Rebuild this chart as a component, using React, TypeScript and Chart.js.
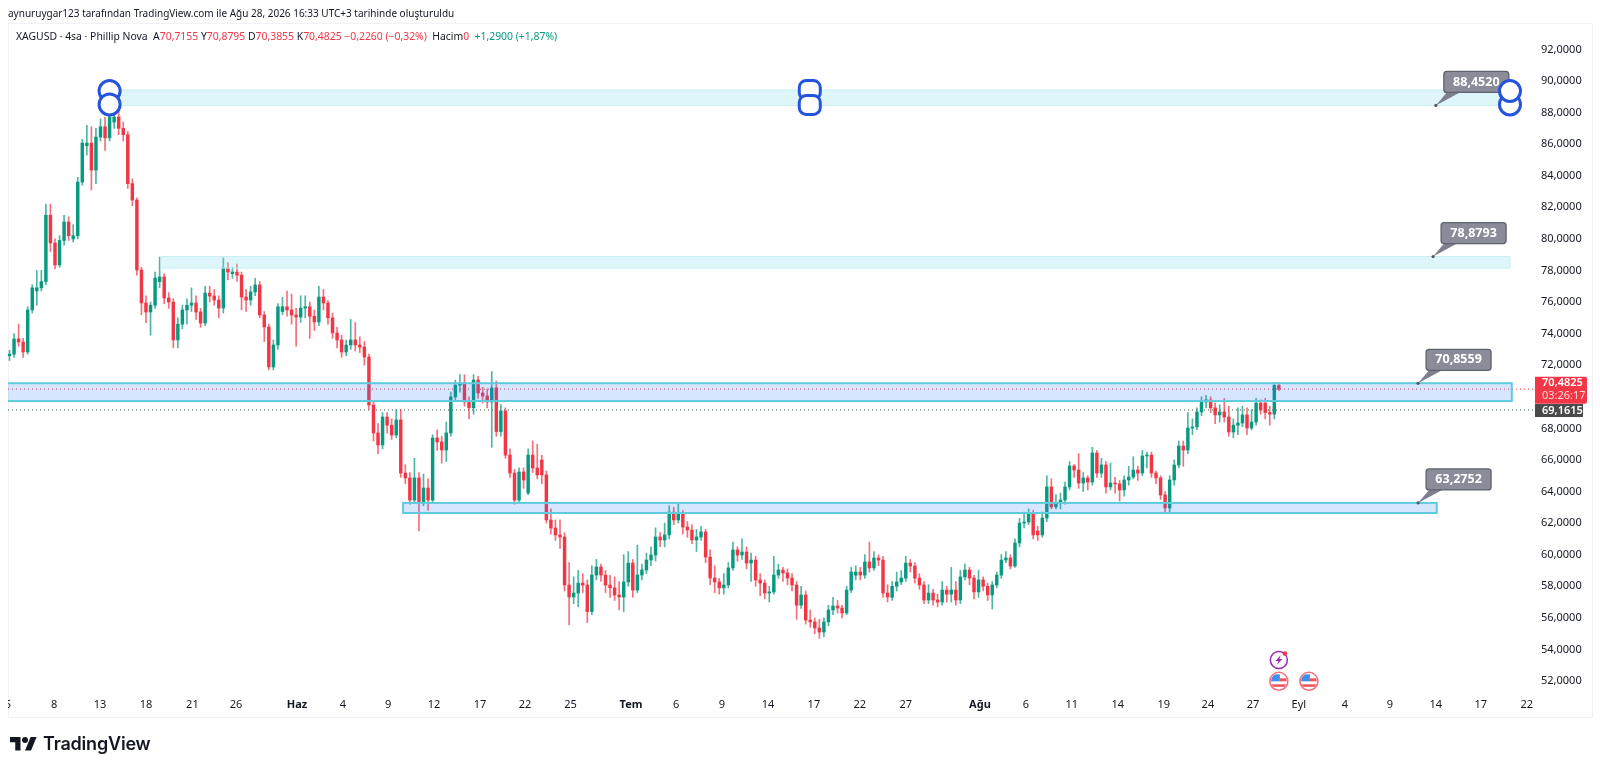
import React, { useEffect, useRef } from "react";
import { Chart, registerables } from "chart.js";

Chart.register(...registerables);

const opens = [
72.6,72.7,73.66,73.47,72.84,75.5,76.7,76.9,77.3,81.5,
79.74,78.35,79.9,81.07,80,80.2,83.6,85.9,86.07,84.36,
86.45,87.1,86.4,87.4,87.72,87,86.6,83.5,82.46,78.03,
75.94,75.37,75.8,77.3,77.59,76.26,76,73.6,74.6,75.5,
75.8,75.94,75.37,74.67,76.57,76.38,76.13,75.62,78.16,77.8,
77.9,77.7,76.32,76.13,76.64,77.08,75.18,74.42,71.89,73.28,
75.4,75.7,75.5,75.18,75.05,75.62,75.7,75.1,74.74,76.32,
75.94,75,74.04,73.6,72.84,73.28,73.6,73.28,73.15,72.52,
69.48,67.71,66.95,68.72,68.2,67.58,68.53,65.17,64.86,63.46,
64.86,63.34,64.22,63.46,67.39,67.14,66.63,67.71,69.99,70.74,
70.87,69.67,69.3,71.06,70.24,70.05,69.67,70.56,67.8,69.1,
66.31,65.17,63.46,65.24,63.9,66.31,65.49,66,65.05,62.2,
61.69,61.25,61.12,58.08,57.32,57.57,58.2,58.08,56.4,58.71,
59.22,58.71,58.08,57.9,57.45,57.32,58.27,59.47,57.76,58.71,
59.03,59.66,59.98,61.12,60.93,61.25,62.7,62.2,62.64,61.75,
61.56,60.93,61.12,61.44,59.85,58.52,58.27,57.9,58.08,59.16,
60.3,59.98,60.17,59.47,59.66,58.4,58.2,57.57,57.64,58.71,
59.03,58.84,58.52,58.08,56.8,57.45,55.86,55.74,55.36,55.1,
55.74,56.5,56.75,56.62,56.31,57.76,58.7,58.9,58.71,59.54,
59.16,59.79,59.66,57.57,57.3,58,58.27,58.52,59.47,59.28,
58.52,58.08,57.13,57.57,57.13,57,57.76,57.5,57.76,57.13,
58.59,59.03,58.52,57.64,58.4,58,57.45,58.08,58.71,59.66,
59.79,59.28,60.74,62,62.07,62.64,61.5,61.25,62.32,64.29,
63.02,63.27,63.46,64.29,65.62,65.36,64.54,64.86,64.6,66.44,
65.17,65.68,64.29,64.54,64.48,64.1,64.73,64.92,65.36,65.17,
66.25,66.31,65.17,64.86,63.78,62.96,64.73,65.68,66.88,66.63,
68.02,68.09,69.04,69.67,69.8,69.3,68.85,69.04,68.72,67.77,
68.2,68.34,68.85,68.02,68.4,69.6,69.6,69,68.9,70.7155];

const highs = [
72.95,74,74.6,73.7,75.7,77.1,78,78,82.2,82.2,
80,80.2,81.5,81.4,80.9,83.9,86.3,87.2,87.1,87,
87.6,87.7,88.4,88.4,88.3,87.4,86.8,83.8,82.6,78.2,
76.4,76,77.9,78.85,77.8,76.6,76.2,75,75.8,76.2,
76.9,76.4,75.6,77,77,76.8,76.4,78.8,78.5,78.2,
78.4,77.9,76.8,77,77.5,77.3,75.4,74.6,73.6,75.9,
76.3,76.7,76.5,75.6,76.4,76.4,76,75.5,77,76.8,
76.1,75.3,74.4,73.9,73.6,74.9,74.7,73.8,73.5,72.7,
69.7,68.3,69,69,68.6,69.2,69.2,65.7,65.2,66.1,
65.2,65.1,64.8,67.6,67.9,67.5,68.4,70.3,71.05,71.4,
71.4,70,71.4,71.3,70.6,70.5,71.6,71,69.5,69.3,
66.7,65.4,65.5,65.5,66.7,67.2,67,66.3,65.3,62.9,
62.2,62.2,61.4,59.5,58.6,59,58.8,58.4,59.3,59.7,
59.4,59,58.7,58.6,58.3,60,60.2,59.7,60.6,59.4,
60.1,60.5,61.7,61.4,62,63.1,63,63.2,62.8,62.1,
61.9,61.6,61.8,61.6,60.3,59.3,58.5,58.8,59.5,60.8,
60.5,61,60.5,60.1,59.9,58.8,58.4,58,59.9,59.4,
59.2,59.1,58.8,58.3,58,57.7,56.5,56,55.9,56,
56.8,57.3,57.1,56.8,58,59.2,59.3,59.2,60,60.8,
60.2,60,59.9,58.1,58.3,58.9,59,59.9,59.7,59.5,
58.8,58.3,58.1,57.8,57.5,58.3,58,59.2,58.3,59,
59.4,59.2,58.7,59,58.6,58.2,58.3,58.9,60,60.2,
60,61,62.3,62.7,62.9,62.8,61.8,62.7,65,64.8,
63.8,63.9,64.6,65.9,65.7,66.4,65.2,65,66.8,66.6,
66.1,65.9,65.8,64.9,64.7,65,65.6,66.2,65.6,66.6,
66.5,66.5,65.3,65,64,65,66,67.2,67.2,69,
68.6,69.3,70,70.1,70,69.6,69.5,69.9,69.4,68.6,
69.3,69.4,69.3,69.2,69.9,69.8,69.9,69.4,70.88,70.8795];

const lows = [
72.3,72.5,73.2,72.5,72.7,75.3,75.8,76.7,77.1,79.2,
78.1,78.2,79.6,79.9,79.8,80,83.4,85.3,83.1,83.5,
86.2,85.6,86.2,87,86.6,86.2,83.2,82.1,77.7,75.2,
74.7,73.9,75.6,76.9,75.9,75.6,73.1,73.1,74.3,74.6,
75.4,74.9,74.4,74.5,76,75.8,75,75.3,77.4,77.5,
77.3,75.5,75.4,75.8,76.4,75,73.5,71.7,71.7,73,
75.2,75.1,74.6,73.2,74.7,75,73.7,74.2,74.5,75.5,
74.6,73.7,73.1,72.5,72.6,73,72.9,72.8,72,69.2,
67.2,66.4,66.7,67.7,67.3,67.4,64.9,64.5,63.2,63.3,
61.5,63.1,62.8,63.3,66.6,65.8,65.9,67.5,69.7,70.3,
69.4,68.6,68.9,69.9,69.6,69.3,66.8,67.5,67.5,66.1,
64.9,63.2,63.3,64.2,63.8,65.2,64.8,64.5,62,61.3,
60.9,60.4,57.7,55.55,56.9,56.7,57.6,55.7,56.2,58.4,
58.3,57.6,57.3,57.1,56.5,56.4,58,57.3,57.6,58.4,
58.8,59.3,59.6,60.5,60.5,61,61.9,62,61.3,61.1,
60.7,60.2,60.9,59.5,58.1,57.6,57.5,57.5,57.9,59,
59.6,59.7,59.1,58.3,58,57.4,57.2,57,57.5,58.5,
58.3,58.1,57.7,55.9,56.6,55.6,55.4,55,54.7,54.8,
55.5,56.2,56.3,56,56.2,57.6,58.4,58.4,58.5,58.9,
59,59.3,57.3,57,57.1,57.7,58.1,58.3,58.9,58.2,
57.8,56.9,56.9,56.8,56.7,56.8,57,57,56.8,56.9,
58.4,58.1,57.2,57.3,57.7,57.1,56.56,57.9,58.5,59.5,
59.1,59.2,60.5,61.7,61.9,61,60.9,61.1,62.1,62.9,
62.9,62.9,63.2,64.1,64.9,64.2,64,64.1,64.4,64.9,
64.9,63.9,64.1,63.9,63.4,63.7,64.4,64.8,64.7,65,
65.5,64.9,64.5,63.5,62.6,62.7,64.4,65.5,65.6,66.4,
67.6,67.9,68.8,69.3,69,68.3,68.4,68.4,67.5,67.4,
67.6,68.1,67.6,67.9,68.2,68.9,68.6,68.2,68.6,70.3855];

const closes = [
72.7,73.66,73.47,72.84,75.5,76.9,76.9,77.3,81.5,79.74,
78.35,79.9,81.07,80.2,80.2,83.6,86.07,86.07,84.36,86.45,
87.1,86.4,87.72,87.72,87,86.6,83.5,82.46,78.03,75.94,
75.37,75.8,77.52,77.59,76.26,76,73.6,74.6,75.5,75.8,
75.94,75.37,74.67,76.57,76.38,76.13,75.62,78.16,77.9,77.9,
77.7,76.32,76.13,76.64,77.08,75.18,74.42,71.89,73.28,75.7,
75.7,75.5,75.18,75.05,75.62,75.7,75.1,74.74,76.32,75.94,
75,74.04,73.6,72.84,73.28,73.6,73.28,73.15,72.52,69.48,
67.71,66.95,68.72,68.2,67.58,68.53,65.17,64.86,63.46,64.86,
63.34,64.22,63.46,67.39,67.14,66.63,67.71,69.99,70.74,70.87,
69.67,69.3,71.06,70.24,70.05,69.67,70.56,67.8,69.1,66.31,
65.17,63.46,65.24,64.73,66.31,65.49,65.05,65.05,62.2,61.69,
61.25,61.12,58.08,57.32,57.57,58.2,58.08,56.4,58.71,59.22,
58.71,58.08,57.9,57.45,57.32,58.27,59.47,57.76,58.71,59.03,
59.66,59.98,61.12,60.93,61.25,62.7,62.2,62.64,61.75,61.56,
60.93,61.12,61.44,59.85,58.52,58.27,57.9,58.08,59.16,60.3,
59.98,60.17,59.47,59.66,58.4,58.2,57.57,57.64,58.71,59.03,
58.84,58.52,58.08,56.8,57.45,55.86,55.74,55.36,55.1,55.74,
56.5,56.75,56.62,56.31,57.76,58.9,58.9,58.71,59.54,59.16,
59.79,59.66,57.57,57.32,58,58.27,58.52,59.47,59.28,58.52,
58.08,57.13,57.57,57.13,57,57.76,57.5,57.76,57.13,58.59,
59.03,58.52,57.64,58.4,58,57.45,58.08,58.71,59.66,59.79,
59.28,60.74,62,62.07,62.64,61.25,61.25,62.32,64.29,63.02,
63.27,63.46,64.29,65.62,65.36,64.54,64.86,64.6,66.44,65.17,
65.68,64.29,64.54,64.48,64.1,64.73,64.92,65.36,65.17,66.25,
66.31,65.17,64.86,63.78,62.96,64.73,65.68,66.88,66.63,68.02,
68.09,69.04,69.67,69.8,69.3,68.85,69.04,68.72,67.77,68.2,
68.34,68.85,68.02,68.4,69.6,69.16,69,68.9,70.72,70.4825];

const priceTicks = [52,54,56,58,60,62,64,66,68,72,74,76,78,80,82,84,86,88,90,92];
const timeLabels = ["5","8","13","18","21","26","Haz","4","9","12","17","22","25","Tem","6","9","14","17","22","27","Ağu","6","11","14","19","24","27","Eyl","4","9","14","17","22"];
const timeTickBars = [-0.33,9.8,19.9,30,40.2,49.8,63.2,73.3,83.2,93.3,103.4,113.3,123.3,136.6,146.5,156.6,166.7,176.8,186.9,197,213.3,223.4,233.5,243.6,253.7,263.4,273.3,283.4,293.5,303.4,313.5,323.4,333.5];
const boldTimeLabels = ["Haz","Tem","Ağu"];

const zoneStart = [22.0,33.3,-3,86.5];
const zoneEnd = [329.8,329.8,330.2,313.7];
const zoneTop = [89.43,78.88,70.86,63.28];
const zoneBottom = [88.45,78.15,69.73,62.64];
const calloutBar = [313.5,312.9,309.6,309.6];
const calloutPrice = [88.452,78.8793,70.8559,63.2752];
const calloutText = ["88,4520","78,8793","70,8559","63,2752"];

const lastPrice = 70.4825;
const lastPriceText = "70,4825";
const countdownText = "03:26:17";
const referencePrice = 69.1615;
const referencePriceText = "69,1615";

const flagBars = [279,285.6];
const flagPrice = 51.98;
const boltBar = 279;
const boltPrice = 53.33;

const UP = "#089981";
const DOWN = "#f23645";
const UP_WICK = "rgba(8,153,129,0.72)";
const DOWN_WICK = "rgba(242,54,69,0.72)";
const FONT = '"Noto Sans", sans-serif';

function roundedBox(ctx: CanvasRenderingContext2D, x: number, y: number, w: number, h: number, r: any) {
  ctx.beginPath();
  ctx.roundRect(x, y, w, h, r);
}

const overlayPlugin = {
  id: "overlay",
  beforeDatasetsDraw(chart: any) {
    const { ctx, scales, chartArea } = chart;
    const y = scales.y;
    ctx.save();
    ctx.lineWidth = 1;
    ctx.setLineDash([1, 3]);
    ctx.strokeStyle = "#f23645";
    ctx.beginPath();
    ctx.moveTo(chartArea.left, y.getPixelForValue(lastPrice));
    ctx.lineTo(chartArea.right, y.getPixelForValue(lastPrice));
    ctx.stroke();
    ctx.strokeStyle = "#2f5d46";
    ctx.beginPath();
    ctx.moveTo(chartArea.left, y.getPixelForValue(referencePrice));
    ctx.lineTo(chartArea.right, y.getPixelForValue(referencePrice));
    ctx.stroke();
    ctx.restore();
  },
  afterDatasetsDraw(chart: any) {
    const { ctx, scales, chartArea } = chart;
    const x = scales.x;
    const y = scales.y;
    ctx.save();

    // Zones, clipped to the pane
    ctx.save();
    ctx.beginPath();
    ctx.rect(chartArea.left, chartArea.top, chartArea.right - chartArea.left, chartArea.bottom - chartArea.top);
    ctx.clip();
    zoneStart.forEach((s, i) => {
      const l = x.getPixelForValue(s);
      const r = x.getPixelForValue(zoneEnd[i]);
      const t = y.getPixelForValue(zoneTop[i]);
      const b = y.getPixelForValue(zoneBottom[i]);
      const strong = i >= 2;
      ctx.fillStyle = strong ? "rgba(41,121,255,0.19)" : "rgba(128,222,234,0.26)";
      ctx.fillRect(l, t, r - l, b - t);
      ctx.strokeStyle = strong ? "#5fcbdc" : "#c6eff4";
      ctx.lineWidth = strong ? 2 : 1;
      ctx.strokeRect(l, t, r - l, b - t);
    });
    ctx.restore();

    // Callouts
    calloutBar.forEach((bar, i) => {
      const ax = x.getPixelForValue(bar);
      const ay = y.getPixelForValue(calloutPrice[i]);
      const bx = ax + 8;
      const by = ay - 34;
      ctx.fillStyle = "#7d808c";
      ctx.beginPath();
      ctx.moveTo(ax, ay);
      ctx.lineTo(bx + 3, by + 21);
      ctx.lineTo(bx + 16, by + 21);
      ctx.closePath();
      ctx.fill();
      ctx.fillStyle = "#555964";
      ctx.beginPath();
      ctx.arc(ax, ay, 1.6, 0, Math.PI * 2);
      ctx.fill();
      roundedBox(ctx, bx, by, 65, 21, 3);
      ctx.fillStyle = "#8a8d99";
      ctx.fill();
      ctx.strokeStyle = "#5f636e";
      ctx.lineWidth = 1.3;
      ctx.stroke();
      ctx.fillStyle = "#ffffff";
      ctx.font = `700 12.5px ${FONT}`;
      ctx.textAlign = "center";
      ctx.textBaseline = "middle";
      ctx.fillText(calloutText[i], bx + 32.5, by + 10.5);
    });

    // Selected zone handles
    const topY = y.getPixelForValue(zoneTop[0]);
    const botY = y.getPixelForValue(zoneBottom[0]);
    const midBar = (zoneStart[0] + zoneEnd[0]) / 2;
    ctx.lineWidth = 3;
    ctx.strokeStyle = "#2453dc";
    const circle = (cx: number, cy: number) => {
      ctx.fillStyle = "#ffffff";
      ctx.beginPath();
      ctx.arc(cx, cy, 10.5, 0, Math.PI * 2);
      ctx.fill();
      ctx.stroke();
    };
    const lx = x.getPixelForValue(zoneStart[0]);
    circle(lx, topY + 1);
    circle(lx, botY - 1);
    const rx = x.getPixelForValue(zoneEnd[0]);
    circle(rx, botY - 1);
    circle(rx, topY + 1);
    const mx = x.getPixelForValue(midBar);
    [topY - 9.5, botY - 10].forEach((ry) => {
      roundedBox(ctx, mx - 10.5, ry, 21, 19, 7);
      ctx.fillStyle = "#ffffff";
      ctx.fill();
      ctx.stroke();
    });

    // Event markers
    const by = y.getPixelForValue(boltPrice);
    const bx = x.getPixelForValue(boltBar);
    ctx.lineWidth = 1.5;
    ctx.strokeStyle = "#9c27b0";
    ctx.beginPath();
    ctx.arc(bx, by, 8.5, 0, Math.PI * 2);
    ctx.stroke();
    ctx.fillStyle = "#9c27b0";
    ctx.beginPath();
    ctx.moveTo(bx + 2, by - 5);
    ctx.lineTo(bx - 3.5, by + 1);
    ctx.lineTo(bx - 0.5, by + 1);
    ctx.lineTo(bx - 2, by + 5);
    ctx.lineTo(bx + 3.5, by - 1);
    ctx.lineTo(bx + 0.5, by - 1);
    ctx.closePath();
    ctx.fill();
    ctx.fillStyle = "#f23645";
    ctx.beginPath();
    ctx.arc(bx + 6, by - 6.5, 2.3, 0, Math.PI * 2);
    ctx.fill();

    flagBars.forEach((bar) => {
      const fx = x.getPixelForValue(bar);
      const fy = y.getPixelForValue(flagPrice);
      ctx.save();
      ctx.beginPath();
      ctx.arc(fx, fy, 8, 0, Math.PI * 2);
      ctx.clip();
      ctx.fillStyle = "#ffffff";
      ctx.fillRect(fx - 8, fy - 8, 16, 16);
      ctx.fillStyle = "#3d8ef0";
      ctx.fillRect(fx - 8, fy - 7, 9, 7);
      ctx.fillStyle = "#f0505c";
      ctx.fillRect(fx + 1, fy - 3, 7, 3);
      ctx.fillRect(fx - 8, fy + 3, 16, 2.5);
      ctx.restore();
      ctx.strokeStyle = "#f0737d";
      ctx.lineWidth = 1.6;
      ctx.beginPath();
      ctx.arc(fx, fy, 9, 0, Math.PI * 2);
      ctx.stroke();
    });

    // Price axis labels
    const last = y.getPixelForValue(lastPrice);
    const axisL = chartArea.right;
    roundedBox(ctx, axisL, last - 12.5, 52, 27, [0, 2, 2, 0]);
    ctx.fillStyle = "#f23645";
    ctx.fill();
    ctx.textAlign = "left";
    ctx.textBaseline = "middle";
    ctx.font = `600 11px ${FONT}`;
    ctx.fillStyle = "#ffffff";
    ctx.fillText(lastPriceText, axisL + 7, last - 6);
    ctx.font = `400 11px ${FONT}`;
    ctx.fillStyle = "#ffd9dc";
    ctx.fillText(countdownText, axisL + 7, last + 7);
    const ref = y.getPixelForValue(referencePrice);
    ctx.fillStyle = "#4a4a4a";
    ctx.fillRect(axisL, ref - 6, 48, 13);
    ctx.font = `600 11px ${FONT}`;
    ctx.fillStyle = "#ffffff";
    ctx.fillText(referencePriceText, axisL + 7, ref + 0.5);

    // Clip the first time label at the pane's left edge
    ctx.fillStyle = "#ffffff";
    ctx.fillRect(0, chartArea.bottom, 8, 30);
    ctx.restore();
  },
};

export default function App() {
  const ref = useRef<HTMLCanvasElement | null>(null);
  useEffect(() => {
    if (!ref.current) return;
    const bodyColors = closes.map((c, i) => (c >= opens[i] ? UP : DOWN));
    const wickColors = closes.map((c, i) => (c >= opens[i] ? UP_WICK : DOWN_WICK));
    const chart = new Chart(ref.current, {
      type: "bar",
      data: {
        datasets: [
          {
            label: "Gövde",
            data: closes.map((c, i) => ({ x: i, y: [opens[i], c] })) as any,
            backgroundColor: bodyColors,
            barThickness: 2.8,
            minBarLength: 1,
            grouped: false,
            order: 1,
          },
          {
            label: "Fitil",
            data: closes.map((_, i) => ({ x: i, y: [lows[i], highs[i]] })) as any,
            backgroundColor: wickColors,
            barThickness: 1,
            grouped: false,
            order: 2,
          },
        ],
      },
      options: {
        responsive: false,
        animation: false,
        events: [],
        layout: { padding: { left: 8, top: 24, right: 0, bottom: 0 } },
        plugins: { legend: { display: false }, tooltip: { enabled: false } },
        scales: {
          x: {
            type: "linear",
            offset: false,
            min: -0.33,
            max: 335.3,
            grid: { display: false, drawTicks: false },
            border: { display: false },
            afterBuildTicks: (s: any) => {
              s.ticks = timeTickBars.map((v) => ({ value: v }));
            },
            afterFit: (s: any) => {
              s.height = 74;
            },
            ticks: {
              autoSkip: false,
              maxRotation: 0,
              padding: 2,
              color: "#131722",
              callback: (_v: any, i: number) => timeLabels[i],
              font: (c: any) => ({
                family: FONT,
                size: 11,
                weight: boldTimeLabels.includes(timeLabels[c.index]) ? "700" : "400",
              }),
            },
          },
          y: {
            type: "linear",
            position: "right",
            min: 51.05,
            max: 93.61,
            grid: { display: false, drawTicks: false },
            border: { display: false },
            afterBuildTicks: (s: any) => {
              s.ticks = priceTicks.map((v) => ({ value: v }));
            },
            afterFit: (s: any) => {
              s.width = 65;
            },
            ticks: {
              autoSkip: false,
              padding: 6,
              color: "#131722",
              font: { family: FONT, size: 11 },
              callback: (v: any) => Number(v).toFixed(4).replace(".", ","),
            },
          },
        },
      },
      plugins: [overlayPlugin],
    } as any);
    return () => chart.destroy();
  }, []);

  const val = { color: "#f23645" };
  const head: React.CSSProperties = { position: "absolute", whiteSpace: "pre", fontFamily: FONT, color: "#131722", lineHeight: "14px" };
  return (
    <div style={{ position: "absolute", left: 0, top: 0, width: 1600, height: 770, background: "#fff", overflow: "hidden" }}>
      <div style={{ position: "absolute", left: 8, top: 23, width: 1583, height: 693, border: "1px solid #f0f1f4" }} />
      <canvas ref={ref} width={1600} height={770} style={{ position: "absolute", left: 0, top: 0, width: 1600, height: 770 }} />
      <div style={{ ...head, fontSize: 10, left: 8, top: 6 }}>aynuruygar123 tarafından TradingView.com ile Ağu 28, 2026 16:33 UTC+3 tarihinde oluşturuldu</div>
      <div style={{ ...head, fontSize: 10.4, left: 16, top: 29 }}>
        {"XAGUSD · 4sa · Phillip Nova  A"}<span style={val}>70,7155</span>{" Y"}<span style={val}>70,8795</span>{" D"}<span style={val}>70,3855</span>{" K"}<span style={val}>70,4825</span>{" "}<span style={val}>{"−0,2260 (−0,32%)"}</span>{"  Hacim"}<span style={val}>0</span>{"  "}<span style={{ color: "#089981" }}>{"+1,2900 (+1,87%)"}</span>
      </div>
      <svg style={{ position: "absolute", left: 10, top: 734 }} width={27} height={21} viewBox="0 0 36 28">
        <path d="M14 22H7V11H0V4h14v18zM28 22h-8l7.5-18h8L28 22z" fill="#131722" />
        <circle cx={20} cy={8} r={4} fill="#131722" />
      </svg>
      <div style={{ position: "absolute", left: 43, top: 732, fontFamily: "Inter, sans-serif", fontWeight: 600, fontSize: 18, lineHeight: "24px", color: "#131722", letterSpacing: -0.2 }}>TradingView</div>
    </div>
  );
}
